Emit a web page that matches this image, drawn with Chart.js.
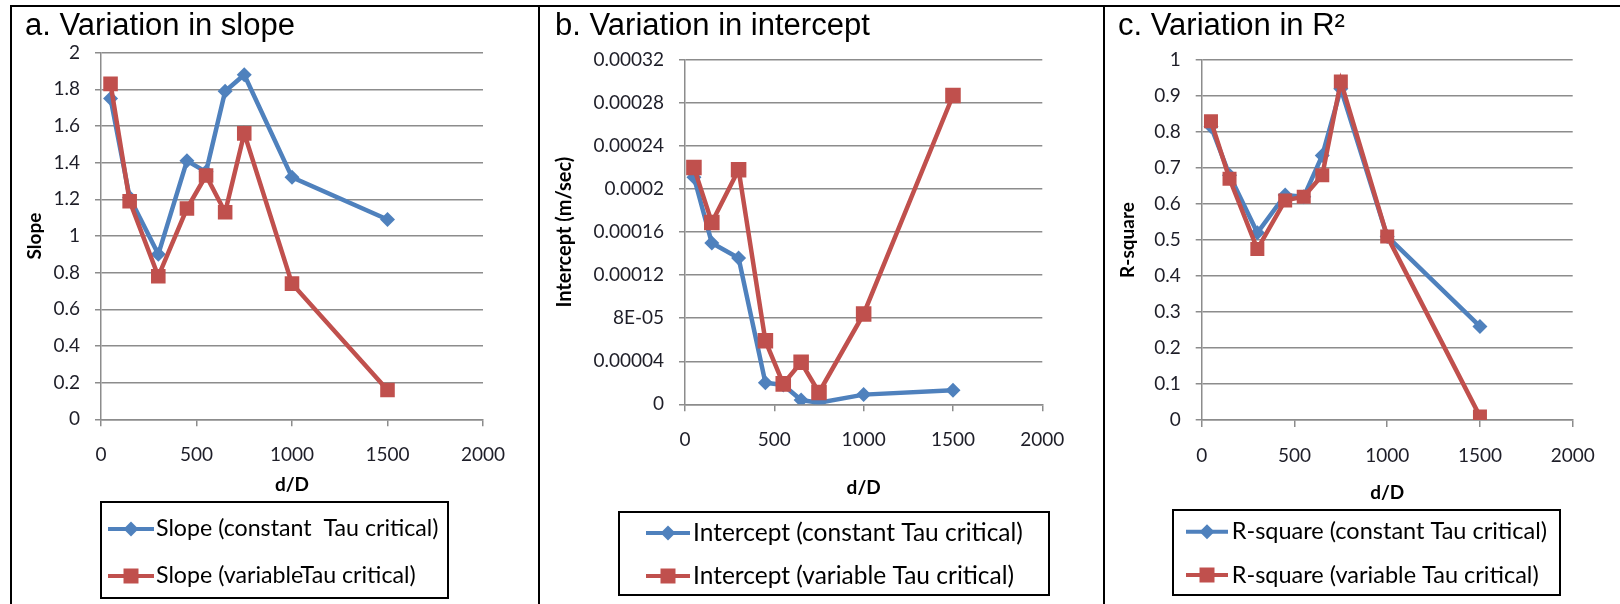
<!DOCTYPE html>
<html>
<head>
<meta charset="utf-8">
<script src="https://cdn.jsdelivr.net/npm/chart.js@4.4.1/dist/chart.umd.min.js"></script>
<style>
  html, body { margin: 0; padding: 0; background: #fff; }
  body { width: 1620px; height: 604px; position: relative; overflow: hidden; }
  .panel { position: absolute; top: 5px; height: 599px; box-sizing: border-box;
           border-left: 2px solid #000; border-top: 2px solid #000; }
  canvas { position: absolute; top: 7px; }
</style>
</head>
<body>
<div class="panel" style="left:10px; width:530px;"></div>
<div class="panel" style="left:538px; width:567px;"></div>
<div class="panel" style="left:1103px; width:517px;"></div>
<canvas id="slopeChart" width="526" height="597" style="left:12px;"></canvas>
<canvas id="interceptChart" width="563" height="597" style="left:540px;"></canvas>
<canvas id="rsqChart" width="515" height="597" style="left:1105px;"></canvas>
<script>
// d/D values shared by all three panels
const dD = [50, 150, 300, 450, 550, 650, 750, 1000, 1500];

const slopeConstant = [1.75, 1.21, 0.90, 1.41, 1.35, 1.79, 1.88, 1.32, 1.09];
const slopeVariable = [1.83, 1.19, 0.78, 1.15, 1.33, 1.13, 1.56, 0.74, 0.16];

const interceptConstant = [0.000211, 0.000150, 0.000136, 0.000020, 0.000018, 0.000004, 0.0000015, 0.000009, 0.000013];
const interceptVariable = [0.000220, 0.000169, 0.000218, 0.000059, 0.000019, 0.000039, 0.000011, 0.000084, 0.000287];

const rsqConstant = [0.815, 0.68, 0.52, 0.625, 0.62, 0.735, 0.92, 0.51, 0.26];
const rsqVariable = [0.83, 0.67, 0.475, 0.61, 0.62, 0.68, 0.94, 0.51, 0.01];

const xTickLabels = ['0', '500', '1000', '1500', '2000'];
const slopeTickLabels = ['0', '0.2', '0.4', '0.6', '0.8', '1', '1.2', '1.4', '1.6', '1.8', '2'];
const interceptTickLabels = ['0', '0.00004', '8E-05', '0.00012', '0.00016', '0.0002', '0.00024', '0.00028', '0.00032'];
const rsqTickLabels = ['0', '0.1', '0.2', '0.3', '0.4', '0.5', '0.6', '0.7', '0.8', '0.9', '1'];

const BLUE = '#4F81BD';
const RED = '#C0504D';
const GRID = '#8c8c8c';
const BODY_FONT = 'Lato';

function pts(ys) {
  return dD.map((x, i) => ({ x: x, y: ys[i] }));
}

// legend drawn as a framed box with line+marker samples, one row per series
const boxedLegend = {
  id: 'boxedLegend',
  afterDraw(chart, args, opts) {
    if (!opts || opts.x === undefined) return;
    const ctx = chart.ctx;
    ctx.save();
    ctx.lineWidth = 2;
    ctx.strokeStyle = '#000';
    ctx.strokeRect(opts.x, opts.y, opts.w, opts.h);
    ctx.font = opts.fontSize + 'px ' + BODY_FONT;
    ctx.textBaseline = 'middle';
    ctx.textAlign = 'left';
    chart.data.datasets.forEach((ds, i) => {
      const y = opts.rows[i];
      ctx.strokeStyle = ds.borderColor;
      ctx.lineWidth = 4;
      ctx.beginPath();
      ctx.moveTo(opts.x0, y);
      ctx.lineTo(opts.x1, y);
      ctx.stroke();
      ctx.fillStyle = ds.borderColor;
      Chart.helpers.drawPoint(ctx, {
        pointStyle: ds.pointStyle,
        radius: ds.pointStyle === 'rect' ? 10.6 : 7.5,
        rotation: 0,
        borderWidth: 0
      }, (opts.x0 + opts.x1) / 2, y);
      ctx.fillStyle = '#000';
      ctx.fillText(ds.label, opts.tx, y);
    });
    ctx.restore();
  }
};

function makePanel(id, p) {
  const ctx = document.getElementById(id).getContext('2d');
  return new Chart(ctx, {
    type: 'line',
    data: {
      datasets: [
        {
          label: p.labels[0], data: pts(p.constant), order: 1,
          borderColor: BLUE, backgroundColor: BLUE, borderWidth: 4.5,
          pointStyle: 'rectRot', pointRadius: 7.5, pointBorderWidth: 0,
          pointBackgroundColor: BLUE, tension: 0
        },
        {
          label: p.labels[1], data: pts(p.variable), order: 0,
          borderColor: RED, backgroundColor: RED, borderWidth: 4.5,
          pointStyle: 'rect', pointRadius: p.squareR, pointBorderWidth: 0,
          pointBackgroundColor: RED, tension: 0
        }
      ]
    },
    options: {
      responsive: false,
      animation: false,
      devicePixelRatio: 1,
      layout: { padding: p.padding },
      plugins: {
        legend: { display: false },
        tooltip: { enabled: false },
        title: {
          display: true, text: p.title, align: 'start', color: '#000',
          font: { family: 'Liberation Sans', size: 31, weight: 'normal', lineHeight: 1.2 },
          padding: { top: 0.4, bottom: p.titleGap }
        },
        boxedLegend: p.legend
      },
      scales: {
        x: {
          type: 'linear', min: 0, max: 2000,
          afterFit(scale) { scale.height = p.xHeight; },
          ticks: {
            stepSize: 500, padding: 17.3, color: '#1e1e28',
            font: { family: BODY_FONT, size: 19 },
            callback: (v, i) => xTickLabels[i]
          },
          grid: { drawOnChartArea: false, drawTicks: true, tickLength: 7, color: GRID, lineWidth: 1.5 },
          border: { display: true, color: GRID, width: 1.5 },
          title: {
            display: true, text: 'd/D', color: '#000', padding: 0,
            font: { family: BODY_FONT, size: 19, weight: 'bold', lineHeight: 1.2 }
          }
        },
        y: {
          type: 'linear', min: p.yMin, max: p.yMax,
          afterFit(scale) { scale.width = p.yWidth; },
          ticks: {
            stepSize: p.yStep, padding: 15, color: '#1e1e28',
            font: { family: BODY_FONT, size: 19 },
            callback: (v, i) => p.yLabels[i]
          },
          grid: { drawTicks: true, tickLength: 6, color: GRID, lineWidth: 1.5 },
          border: { display: true, color: GRID, width: 1.5 },
          title: {
            display: true, text: p.yTitle, color: '#000', padding: 0,
            font: { family: BODY_FONT, size: p.yTitleSize, weight: 'bold', lineHeight: 1 }
          }
        }
      }
    },
    plugins: [boxedLegend]
  });
}

makePanel('slopeChart', {
  title: 'a. Variation in slope',
  labels: ['Slope (constant  Tau critical)', 'Slope (variableTau critical)'],
  constant: slopeConstant, variable: slopeVariable,
  yMin: 0, yMax: 2, yStep: 0.2, yLabels: slopeTickLabels, yTitle: 'Slope', yTitleSize: 19,
  squareR: 10.3,
  padding: { left: 13, right: 55, top: 0, bottom: 107.6 },
  titleGap: 8.1, yWidth: 76, xHeight: 77.1,
  legend: { x: 89, y: 495, w: 347, h: 96, rows: [522, 569], x0: 96, x1: 142, tx: 144, fontSize: 23.2 }
});

makePanel('interceptChart', {
  title: 'b. Variation in intercept',
  labels: ['Intercept (constant Tau critical)', 'Intercept (variable Tau critical)'],
  constant: interceptConstant, variable: interceptVariable,
  yMin: 0, yMax: 0.00032, yStep: 0.00004, yLabels: interceptTickLabels, yTitle: 'Intercept (m/sec)', yTitleSize: 20,
  squareR: 11,
  padding: { left: 15, right: 60.7, top: 0, bottom: 104.6 },
  titleGap: 15.4, yWidth: 130, xHeight: 95.1,
  legend: { x: 79, y: 505, w: 430, h: 83, rows: [526, 569], x0: 106, x1: 150, tx: 153, fontSize: 24.5 }
});

makePanel('rsqChart', {
  title: 'c. Variation in R\u00B2',
  labels: ['R-square (constant Tau critical)', 'R-square (variable Tau critical)'],
  constant: rsqConstant, variable: rsqVariable,
  yMin: 0, yMax: 1, yStep: 0.1, yLabels: rsqTickLabels, yTitle: 'R-square', yTitleSize: 19,
  squareR: 9.9,
  padding: { left: 13, right: 47.3, top: 0, bottom: 99.9 },
  titleGap: 15.4, yWidth: 83.7, xHeight: 84.1,
  legend: { x: 68, y: 503, w: 387, h: 85, rows: [524.7, 568], x0: 81, x1: 123, tx: 126.7, fontSize: 23.5 }
});
</script>
</body>
</html>
